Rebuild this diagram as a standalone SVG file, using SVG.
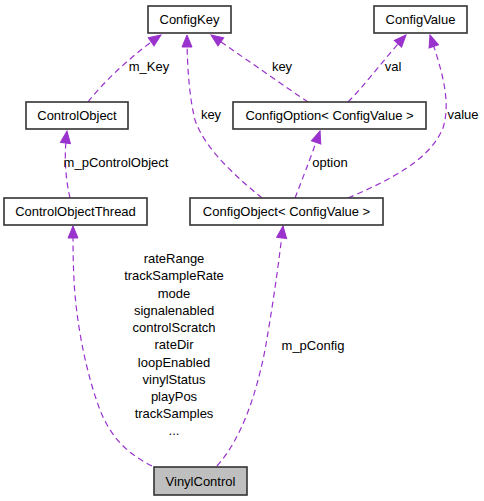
<svg xmlns="http://www.w3.org/2000/svg" width="484" height="501" viewBox="0 0 484 501">
<style>
.node rect{fill:#ffffff;stroke:#333333;stroke-width:1.6}
.node.hl rect{fill:#bfbfbf}
text{font-family:"Liberation Sans",Arial,Helvetica,sans-serif;font-size:13px;fill:#000000}
.node text{text-anchor:middle}
.edges path{fill:none;stroke:#9a32cd;stroke-width:1.2;stroke-dasharray:6,4}
.lbl text{text-anchor:middle}
</style>
<defs>
<marker id="arr" markerUnits="userSpaceOnUse" markerWidth="14" markerHeight="12" viewBox="0 0 14 12" refX="13" refY="6" orient="auto">
<path d="M1,1 L13,6 L1,11 z" fill="#9a32cd" stroke="#9a32cd" stroke-width="1"/>
</marker>
</defs>
<rect width="484" height="501" fill="#ffffff"/>
<g class="edges">
<path d="M88,102 C102,84 128,58 161,35" marker-end="url(#arr)"/>
<path d="M70,198 C67,185 63,162 67,131" marker-end="url(#arr)"/>
<path d="M262,198 C240,180 205,150 195,120 C190,100 187,70 187,35" marker-end="url(#arr)"/>
<path d="M308,102 C290,90 250,62 211,35" marker-end="url(#arr)"/>
<path d="M348,102 C365,85 385,58 406,35" marker-end="url(#arr)"/>
<path d="M348,198 C390,180 430,160 443,128 C452,100 440,65 430,35" marker-end="url(#arr)"/>
<path d="M295,198 C300,185 310,160 320,131" marker-end="url(#arr)"/>
<path d="M152,466 C130,455 112,440 100,410 C85,370 76,320 74,280 C73,260 73,245 73,226" marker-end="url(#arr)"/>
<path d="M217,466 C240,440 255,400 265,350 C272,310 278,270 283,226" marker-end="url(#arr)"/>
</g>
<g class="lbl">
<text x="149" y="71">m_Key</text>
<text x="116" y="167">m_pControlObject</text>
<text x="211" y="119">key</text>
<text x="282" y="71">key</text>
<text x="393" y="71">val</text>
<text x="463" y="119">value</text>
<text x="330" y="167">option</text>
<text x="313" y="350">m_pConfig</text>
<text x="174" y="263">rateRange</text>
<text x="174" y="280">trackSampleRate</text>
<text x="174" y="297.5">mode</text>
<text x="174" y="314.5">signalenabled</text>
<text x="174" y="332">controlScratch</text>
<text x="174" y="349">rateDir</text>
<text x="174" y="366.5">loopEnabled</text>
<text x="174" y="383.5">vinylStatus</text>
<text x="174" y="401">playPos</text>
<text x="174" y="418">trackSamples</text>
<text x="174" y="435">...</text>
</g>
<g id="ConfigKey" class="node"><rect x="148" y="6" width="83" height="27"/><text x="189.5" y="24">ConfigKey</text></g>
<g id="ConfigValue" class="node"><rect x="374" y="6" width="93" height="27"/><text x="420.5" y="24">ConfigValue</text></g>
<g id="ControlObject" class="node"><rect x="26" y="102" width="102" height="27"/><text x="77" y="120">ControlObject</text></g>
<g id="ConfigOption" class="node"><rect x="233" y="102" width="193" height="27"/><text x="329.5" y="120">ConfigOption&lt; ConfigValue &gt;</text></g>
<g id="ControlObjectThread" class="node"><rect x="4" y="198" width="143" height="27"/><text x="75.5" y="216">ControlObjectThread</text></g>
<g id="ConfigObject" class="node"><rect x="190" y="198" width="193" height="27"/><text x="286.5" y="216">ConfigObject&lt; ConfigValue &gt;</text></g>
<g id="VinylControl" class="node hl"><rect x="154" y="467" width="93" height="28"/><text x="200.5" y="485.5">VinylControl</text></g>
</svg>
